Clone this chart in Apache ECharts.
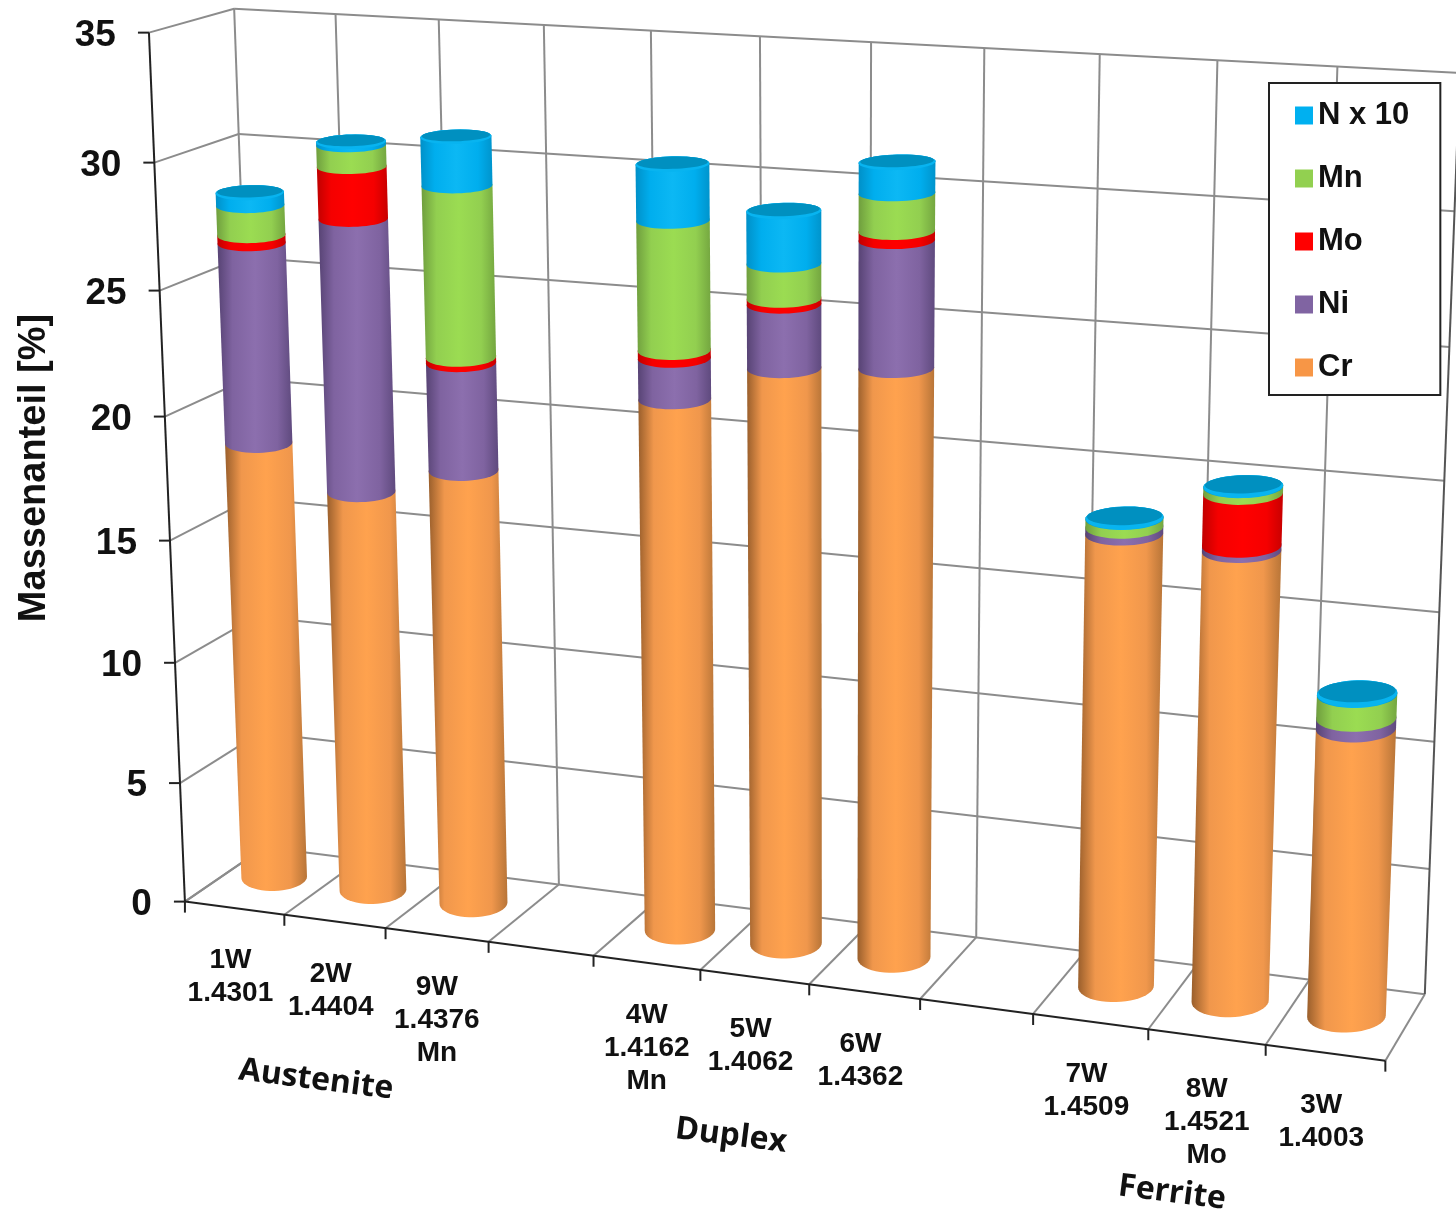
<!DOCTYPE html>
<html>
<head>
<meta charset="utf-8">
<title>Massenanteil</title>
<style>html,body{margin:0;padding:0;background:#fff}#main{width:1456px;height:1212px}</style>
<script src="https://cdn.jsdelivr.net/npm/echarts@6/dist/echarts.min.js"></script>
</head>
<body>
<div id="main"></div>
<script>
var categories = ['1W\n1.4301', '2W\n1.4404', '9W\n1.4376\nMn', '', '4W\n1.4162\nMn', '5W\n1.4062', '6W\n1.4362', '', '7W\n1.4509', '8W\n1.4521\nMo', '3W\n1.4003'];
var cr = [18.2, 16.6, 17.84, null, 21.4, 22.95, 23.3, null, 17.74, 17.5, 11.2];
var ni = [8.05, 10.9, 4.3, null, 1.6, 2.45, 4.83, null, 0.26, 0.2, 0.4];
var mo = [0.32, 2.05, 0.21, null, 0.3, 0.22, 0.34, null, null, 1.97, null];
var mn = [1.18, 0.84, 6.73, null, 5.0, 1.33, 1.43, null, 0.33, 0.25, 0.9];
var nx10 = [0.5, 0.13, 1.89, null, 2.15, 2.0, 1.15, null, 0.02, 0.02, 0.03];
var yTicks = [0, 5, 10, 15, 20, 25, 30, 35];
var seriesNames = ['Cr', 'Ni', 'Mo', 'Mn', 'N x 10'];
var seriesValues = [cr, ni, mo, mn, nx10];

var yMax = 35;
var slots = categories.length;

// picture points of the 3D box: [along x, depth, height, px, py]
var anchors = [
    [0, 0, 0, 186, 902], [1, 0, 0, 1386, 1060], [0, 1, 0, 264, 847], [1, 1, 0, 1425, 994],
    [0, 0, 1, 148, 33], [0, 1, 1, 234, 9], [1, 1, 1, 1459, 73],
    [0, 0, 30 / 35, 155, 162], [0, 0, 15 / 35, 170, 540],
    [5 / 11, 0, 0, 700, 970], [8 / 11, 0, 0, 1032, 1015],
    [5 / 11, 1, 1, 760, 36.5], [8 / 11, 1, 1, 1101, 54]
];

// least squares for the camera matrix
var fitCamera = function (pts) {
    var rows = [];
    pts.forEach(function (p) {
        var x = p[3] / 1000, y = p[4] / 1000;
        rows.push([p[0], p[1], p[2], 1, 0, 0, 0, 0, -x * p[0], -x * p[1], -x * p[2], x]);
        rows.push([0, 0, 0, 0, p[0], p[1], p[2], 1, -y * p[0], -y * p[1], -y * p[2], y]);
    });
    var n = 11, m = [];
    for (var i = 0; i < n; i++) {
        m[i] = [];
        for (var j = 0; j <= n; j++) {
            var s = 0;
            rows.forEach(function (r) { s += r[i] * r[j]; });
            m[i][j] = s;
        }
    }
    for (i = 0; i < n; i++) {
        var best = i;
        for (j = i + 1; j < n; j++) {
            if (Math.abs(m[j][i]) > Math.abs(m[best][i])) best = j;
        }
        var tmp = m[i]; m[i] = m[best]; m[best] = tmp;
        for (j = 0; j < n; j++) {
            if (j === i) continue;
            var f = m[j][i] / m[i][i];
            for (var k = i; k <= n; k++) m[j][k] -= f * m[i][k];
        }
    }
    var out = [];
    for (i = 0; i < n; i++) out[i] = m[i][n] / m[i][i];
    return out;
};
var cam = fitCamera(anchors);

var project = function (t, d, v) {
    var w = cam[8] * t + cam[9] * d + cam[10] * v + 1;
    return [
        1000 * (cam[0] * t + cam[1] * d + cam[2] * v + cam[3]) / w,
        1000 * (cam[4] * t + cam[5] * d + cam[6] * v + cam[7]) / w
    ];
};

var hull = function (points) {
    var p = points.slice().sort(function (a, b) { return a[0] - b[0] || a[1] - b[1]; });
    var cross = function (o, a, b) { return (a[0] - o[0]) * (b[1] - o[1]) - (a[1] - o[1]) * (b[0] - o[0]); };
    var half = function (list) {
        var out = [];
        list.forEach(function (q) {
            while (out.length > 1 && cross(out[out.length - 2], out[out.length - 1], q) <= 0) out.pop();
            out.push(q);
        });
        out.pop();
        return out;
    };
    return half(p).concat(half(p.reverse()));
};

// the cylinders keep level ellipses, only their size follows the camera
var ring = function (t, rt, rd, v, sa, sb, lift) {
    var c = project(t, 0.5, v);
    var a = (project(t + rt, 0.5, v)[0] - project(t - rt, 0.5, v)[0]) / 2;
    var b = (project(t, 0.5 - rd, v)[1] - project(t, 0.5 + rd, v)[1]) / 2;
    var out = [];
    for (var i = 0; i < 48; i++) {
        var th = i / 48 * Math.PI * 2;
        var dx = a * (sa || 1) * Math.cos(th);
        out.push([c[0] + dx, c[1] - 3 - b * (lift || 0) - dx * 0.025 + b * (sb || 1) * Math.sin(th)]);
    }
    return out;
};

var shades = {
    'Cr': ['#9a5f2c', '#f0974c', '#ffa24e', '#f0974c', '#b87538'],
    'Ni': ['#574374', '#7f63a0', '#8c6fae', '#7f63a0', '#5f4a7e'],
    'Mo': ['#c00000', '#f50000', '#ff0000', '#f50000', '#c80000'],
    'Mn': ['#6f9e3e', '#92cf50', '#9bdc52', '#92cf50', '#74a640'],
    'N x 10': ['#0090c8', '#00aeee', '#0cb8f4', '#00aeee', '#0094cc']
};
var legendColors = {'Cr': '#f79646', 'Ni': '#8064a2', 'Mo': '#ff0000', 'Mn': '#92d050', 'N x 10': '#00b0f0'};

// one drum of a cylinder, from the lower to the upper stacked value
var renderDrum = function (name, isTop) {
    return function (params, api) {
        var W = api.getWidth(), H = api.getHeight();
        var low = api.coord([api.value(0), api.value(1)]);
        var high = api.coord([api.value(0), api.value(2)]);
        var band = api.size([1, 0])[0];
        var t = low[0] / W, rt = 0.335 * band / W, rd = 0.25;
        var v0 = 1 - low[1] / H, v1 = 1 - high[1] / H;
        var s = shades[name];
        var kids = [{
            type: 'polygon',
            shape: {points: hull(ring(t, rt, rd, v0).concat(ring(t, rt, rd, v1)))},
            style: {
                fill: new echarts.graphic.LinearGradient(0, 0, 1, 0, [
                    {offset: 0, color: s[0]}, {offset: 0.2, color: s[1]}, {offset: 0.5, color: s[2]},
                    {offset: 0.8, color: s[3]}, {offset: 1, color: s[4]}
                ])
            }
        }];
        if (isTop) {
            kids.push({type: 'polygon', shape: {points: ring(t, rt, rd, v1)}, style: {fill: '#08b4f0'}});
            kids.push({type: 'polygon', shape: {points: ring(t, rt, rd, v1, 0.96, 0.8, 0.17)}, style: {fill: '#0090c0'}});
        }
        return {type: 'group', silent: true, children: kids};
    };
};

// walls, floor, ticks and tick labels follow the same camera
var renderFrame = function (params, api) {
    var W = api.getWidth(), H = api.getHeight();
    var band = api.size([1, 0])[0] / W;
    var kids = [];
    var line = function (a, b, color, width) {
        kids.push({type: 'line', shape: {x1: a[0], y1: a[1], x2: b[0], y2: b[1]}, style: {stroke: color, lineWidth: width}});
    };
    var grey = '#8c8c8c', dark = '#222222';
    yTicks.forEach(function (tick) {
        var v = 1 - api.coord([0, tick])[1] / H;
        var corner = project(0, 1, v), front = project(0, 0, v), back = project(1, 1, v);
        line(front, corner, grey, 2);
        line(corner, back, grey, 2);
        line([front[0] - 11, front[1]], front, dark, 2);
        kids.push({
            type: 'text',
            x: front[0] - 33, y: front[1] + 3,
            style: {text: String(tick), align: 'right', verticalAlign: 'middle', fill: '#111', font: 'bold 37px "Liberation Sans"'}
        });
    });
    for (var k = 0; k <= slots; k++) {
        var t = k * band;
        line(project(t, 0, 0), project(t, 1, 0), grey, 2);
        line(project(t, 1, 0), project(t, 1, 1), k === slots ? '#555' : grey, 2);
        var foot = project(t, 0, 0);
        line(foot, [foot[0], foot[1] + 11], dark, 2);
    }
    line(project(0, 0, 0), project(0, 0, 1), dark, 2);
    line(project(0, 0, 0), project(1, 0, 0), dark, 2);
    categories.forEach(function (label, i) {
        if (!label) return;
        var p = project((i + 0.5) * band, 0, 0);
        var shift = label.split('\n').length === 3 ? 0 : -4;
        kids.push({
            type: 'text',
            x: p[0] + shift, y: p[1] + 36,
            style: {text: label, align: 'center', verticalAlign: 'top', fill: '#111', font: 'bold 28px "Liberation Sans"', lineHeight: 33}
        });
    });
    return {type: 'group', silent: true, children: kids};
};

// stack the values
var stacked = seriesNames.map(function () { return []; });
categories.forEach(function (c, i) {
    var base = 0;
    seriesValues.forEach(function (vals, s) {
        if (vals[i] === null) return;
        stacked[s].push([i, base, base + vals[i]]);
        base += vals[i];
    });
});

var series = [{
    name: 'frame', type: 'custom', z: 1, renderItem: renderFrame, data: [[0, 0, 0]],
    encode: {x: 0, y: 1}, silent: true, clip: false
}];
seriesNames.forEach(function (name, s) {
    series.push({
        name: name, type: 'custom', z: 2 + s,
        renderItem: renderDrum(name, s === seriesNames.length - 1),
        itemStyle: {color: legendColors[name]},
        data: stacked[s], encode: {x: 0, y: [1, 2]}, silent: true, clip: false
    });
});

var groupText = function (text, x, y) {
    return {
        type: 'text', x: x, y: y, rotation: -0.125, z: 20, silent: true,
        style: {text: text, align: 'center', verticalAlign: 'middle', fill: '#111', font: 'bold 32px "Open Sans"'}
    };
};

var myChart = echarts.init(document.getElementById('main'), null, {renderer: 'canvas'});
myChart.setOption({
    animation: false,
    backgroundColor: '#fff',
    grid: {left: 0, right: 0, top: 0, bottom: 0, containLabel: false},
    xAxis: {type: 'category', data: categories, show: false},
    yAxis: {type: 'value', min: 0, max: yMax, interval: 5, show: false},
    legend: {
        show: true, orient: 'vertical', left: 1269, top: 83, z: 30,
        data: ['N x 10', 'Mn', 'Mo', 'Ni', 'Cr'],
        icon: 'rect', itemWidth: 18, itemHeight: 18, itemGap: 32,
        backgroundColor: '#fff', borderColor: '#222', borderWidth: 2,
        padding: [17, 31, 12, 26],
        selectedMode: false,
        textStyle: {color: '#111', fontFamily: 'Liberation Sans', fontWeight: 'bold', fontSize: 31}
    },
    graphic: [
        {
            type: 'text', x: 35, y: 468, rotation: Math.PI / 2, z: 20, silent: true,
            style: {text: 'Massenanteil [%]', align: 'center', verticalAlign: 'middle', fill: '#111', font: 'bold 38px "Liberation Sans"'}
        },
        groupText('Austenite', 316, 1080),
        groupText('Duplex', 731, 1136),
        groupText('Ferrite', 1172, 1193)
    ],
    series: series
});
</script>
</body>
</html>
